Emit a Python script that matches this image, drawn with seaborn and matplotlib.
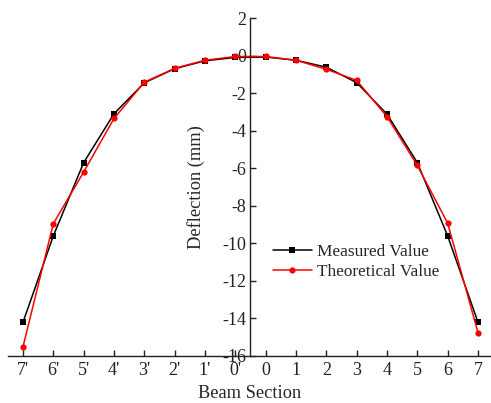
import matplotlib
matplotlib.use("Agg")
import matplotlib.pyplot as plt
import numpy as np
import pandas as pd
import seaborn as sns

# Beam sections, left half (primed) then right half
sections = ["7'", "6'", "5'", "4'", "3'", "2'", "1'", "0'",
            "0", "1", "2", "3", "4", "5", "6", "7"]
measured = [-14.2, -9.6, -5.7, -3.1, -1.45, -0.7, -0.28, -0.1,
            -0.08, -0.25, -0.62, -1.44, -3.12, -5.7, -9.6, -14.2]
theoretical = [-15.5, -8.95, -6.2, -3.35, -1.42, -0.68, -0.25, -0.05,
               -0.05, -0.25, -0.73, -1.32, -3.25, -5.85, -8.92, -14.75]
series_names = ["Measured Value", "Theoretical Value"]
y_ticks = list(range(-16, 3, 2))

pos = np.arange(len(sections))
df = pd.concat([
    pd.DataFrame({"pos": pos, "section": sections, "deflection": measured,
                  "series": series_names[0]}),
    pd.DataFrame({"pos": pos, "section": sections, "deflection": theoretical,
                  "series": series_names[1]}),
], ignore_index=True)

sns.set_style("ticks")
plt.rcParams["font.family"] = ["Liberation Serif", "DejaVu Serif"]
plt.rcParams["axes.unicode_minus"] = False

fig = plt.figure(figsize=(4.91, 4.03), dpi=100)
ax = fig.add_axes([8 / 491, 47 / 403, 483 / 491, 338 / 403])

sns.lineplot(data=df, x="pos", y="deflection", hue="series", style="series",
             hue_order=series_names, style_order=series_names,
             palette={series_names[0]: "black", series_names[1]: "#ff0000"},
             markers={series_names[0]: "s", series_names[1]: "o"},
             dashes=False, linewidth=1.1, markersize=4.5,
             markeredgewidth=0, sort=False, ax=ax)

ax.set_xlim(-0.495, 15.43)
ax.set_ylim(-16, 2)
ax.set_xticks(pos)
ax.set_xticklabels(sections)
ax.set_yticks(y_ticks)
ax.set_yticklabels([str(v) for v in y_ticks])

# y axis crosses midway between section 0' and 0
ax.spines["left"].set_position(("data", 7.5))
ax.spines["top"].set_visible(False)
ax.spines["right"].set_visible(False)
for s in ("left", "bottom"):
    ax.spines[s].set_linewidth(1.0)
    ax.spines[s].set_color("#222222")

ax.tick_params(axis="both", direction="in", length=4, width=1.0,
               labelsize=13, colors="#222222", pad=3)
ax.tick_params(axis="x", pad=4)

ax.set_xlabel("Beam Section", fontsize=13.2, labelpad=5)
ax.set_ylabel("Deflection (mm)", fontsize=13.2)
ax.yaxis.set_label_coords((205 - 8) / 483, 0.5)

ax.legend(frameon=False, loc="upper left",
          bbox_to_anchor=((273 - 8) / 483, (356 - 244) / 338),
          borderpad=0, borderaxespad=0, handlelength=2.25,
          handletextpad=0.3, labelspacing=0.25, fontsize=12.4)

fig.savefig("out.png", dpi=100)
